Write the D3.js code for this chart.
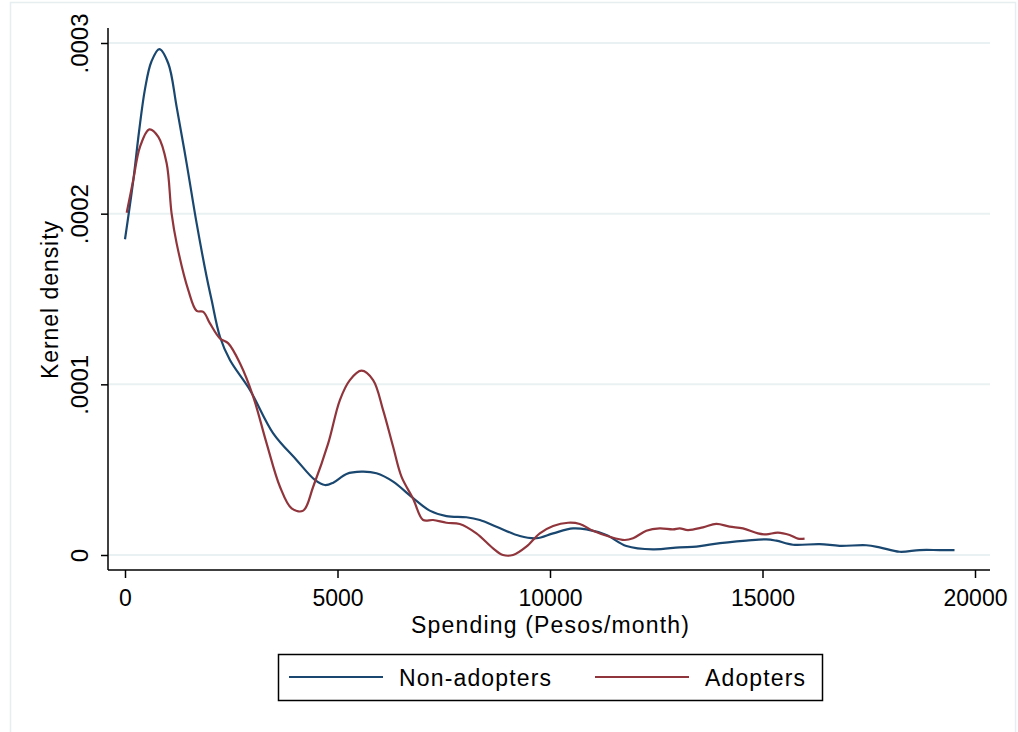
<!DOCTYPE html>
<html>
<head>
<meta charset="utf-8">
<script src="https://cdn.jsdelivr.net/npm/d3@7"></script>
<style>
  html, body { margin: 0; padding: 0; background: #fff; }
  svg { display: block; font-family: "Liberation Sans", Arial, Helvetica, sans-serif; }
</style>
</head>
<body>
<div id="chart"></div>
<script>
// Kernel density estimates (x in pesos/month, y in density x 1e-4)
const nonAdopterX = [0, 196, 330, 470, 620, 807, 1019, 1215, 1450, 1686, 1921, 2038, 2234, 2469, 2939, 3487, 4035, 4468, 4703, 4899, 5212, 5565, 5917, 6309, 6760, 7171, 7563, 8033, 8349, 8741, 9290, 9682, 10073, 10543, 10857, 11327, 11797, 12424, 13051, 13443, 13835, 14619, 15089, 15324, 15716, 16345, 16815, 17442, 17755, 18225, 18696, 19166, 19518];
const nonAdopterY = [1.85, 2.197, 2.48, 2.73, 2.89, 2.964, 2.88, 2.626, 2.295, 1.943, 1.63, 1.494, 1.279, 1.142, 0.967, 0.713, 0.557, 0.44, 0.41, 0.424, 0.475, 0.488, 0.479, 0.43, 0.337, 0.26, 0.228, 0.221, 0.205, 0.166, 0.111, 0.098, 0.127, 0.156, 0.15, 0.117, 0.053, 0.033, 0.045, 0.049, 0.064, 0.084, 0.092, 0.084, 0.06, 0.064, 0.054, 0.057, 0.045, 0.019, 0.029, 0.029, 0.029];

const adopterX = [40, 196, 353, 572, 784, 980, 1097, 1215, 1489, 1686, 1842, 1999, 2234, 2430, 2705, 3018, 3332, 3646, 3920, 4193, 4428, 4781, 5056, 5291, 5565, 5838, 6073, 6309, 6505, 6779, 7015, 7249, 7563, 7876, 8268, 8660, 8895, 9130, 9443, 9760, 10073, 10425, 10700, 11013, 11405, 11758, 11954, 12267, 12580, 12894, 13051, 13247, 13600, 13913, 14226, 14540, 14893, 15089, 15363, 15638, 15834, 15990];
const adopterY = [2.005, 2.2, 2.392, 2.494, 2.45, 2.295, 2.0, 1.826, 1.552, 1.43, 1.425, 1.357, 1.269, 1.24, 1.123, 0.927, 0.654, 0.40, 0.273, 0.26, 0.40, 0.654, 0.908, 1.025, 1.08, 1.025, 0.849, 0.634, 0.459, 0.33, 0.205, 0.205, 0.189, 0.182, 0.127, 0.039, 0.0, 0.0, 0.049, 0.127, 0.17, 0.189, 0.182, 0.142, 0.107, 0.088, 0.098, 0.142, 0.156, 0.15, 0.156, 0.146, 0.162, 0.182, 0.166, 0.156, 0.127, 0.121, 0.131, 0.117, 0.096, 0.096];

const xTicks = [0, 5000, 10000, 15000, 20000];
const yTicks = [0, 0.0001, 0.0002, 0.0003];
const yTickLabels = ["0", ".0001", ".0002", ".0003"];
const seriesNames = ["Non-adopters", "Adopters"];
const seriesColors = ["#1a476f", "#90353b"];

const width = 1018, height = 732;

const svg = d3.select("#chart")
    .append("svg")
    .attr("width", width)
    .attr("height", height);

// outer graph region frame
svg.append("rect")
    .attr("x", 10.5).attr("y", 2.5)
    .attr("width", 1005).attr("height", 760)
    .attr("fill", "#fff")
    .attr("stroke", "#e6eef0")
    .attr("stroke-width", 1.5);

const x = d3.scaleLinear().domain([0, 20000]).range([125, 975]);
const y = d3.scaleLinear().domain([0, 0.0003]).range([555, 43]);

const plotLeft = 108, plotRight = 990, plotTop = 28, plotBottom = 570;

// gridlines
svg.append("g")
    .selectAll("line")
    .data(yTicks)
    .join("line")
    .attr("x1", plotLeft + 1)
    .attr("x2", plotRight)
    .attr("y1", d => y(d))
    .attr("y2", d => y(d))
    .attr("stroke", "#eaf1f2")
    .attr("stroke-width", 2);

// y axis
const yAxis = d3.axisLeft(y)
    .tickValues(yTicks)
    .tickFormat((d, i) => yTickLabels[i])
    .tickSize(7);

const gy = svg.append("g")
    .attr("transform", `translate(${plotLeft},0)`)
    .call(yAxis);
gy.select(".domain").remove();
gy.append("line")
    .attr("x1", 0).attr("x2", 0)
    .attr("y1", plotTop).attr("y2", plotBottom)
    .attr("stroke", "#000").attr("stroke-width", 1.5);
gy.selectAll(".tick line").attr("stroke", "#000").attr("stroke-width", 1.5);
gy.selectAll(".tick text")
    .attr("font-size", 24)
    .attr("fill", "#000")
    .attr("text-anchor", "middle")
    .attr("dy", 0)
    .attr("x", 0)
    .attr("transform", "translate(-20,0) rotate(-90)");

// x axis
const xAxis = d3.axisBottom(x)
    .tickValues(xTicks)
    .tickFormat(d3.format("d"))
    .tickSize(8)
    .tickPadding(12);

const gx = svg.append("g")
    .attr("transform", `translate(0,${plotBottom})`)
    .call(xAxis);
gx.select(".domain").remove();
gx.append("line")
    .attr("x1", plotLeft).attr("x2", plotRight)
    .attr("y1", 0).attr("y2", 0)
    .attr("stroke", "#000").attr("stroke-width", 1.5);
gx.selectAll(".tick line").attr("stroke", "#000").attr("stroke-width", 1.5);
gx.selectAll(".tick text")
    .attr("font-size", 23)
    .attr("fill", "#000");

// axis titles
svg.append("text")
    .attr("x", 550).attr("y", 633)
    .attr("text-anchor", "middle")
    .attr("font-size", 23)
    .attr("textLength", 278)
    .attr("lengthAdjust", "spacing")
    .text("Spending (Pesos/month)");

svg.append("text")
    .attr("transform", "translate(58,300) rotate(-90)")
    .attr("text-anchor", "middle")
    .attr("font-size", 23)
    .attr("textLength", 158)
    .attr("lengthAdjust", "spacing")
    .text("Kernel density");

// density curves
const series = [
    d3.zip(nonAdopterX, nonAdopterY.map(v => v * 1e-4)),
    d3.zip(adopterX, adopterY.map(v => v * 1e-4))
];

const line = d3.line()
    .x(d => x(d[0]))
    .y(d => y(d[1]))
    .curve(d3.curveCatmullRom.alpha(0.5));

svg.append("g")
    .selectAll("path")
    .data(series)
    .join("path")
    .attr("d", line)
    .attr("fill", "none")
    .attr("stroke", (d, i) => seriesColors[i])
    .attr("stroke-width", 2.2)
    .attr("stroke-linejoin", "round");

// legend
const legend = svg.append("g");
legend.append("rect")
    .attr("x", 278.5).attr("y", 654.5)
    .attr("width", 544).attr("height", 46)
    .attr("fill", "#fff")
    .attr("stroke", "#000")
    .attr("stroke-width", 1.5);

const legendX = [289, 595];
const legendTextLen = [152, 100];
const items = legend.selectAll(".item")
    .data(seriesNames)
    .join("g")
    .attr("class", "item")
    .attr("transform", (d, i) => `translate(${legendX[i]},677)`);

items.append("line")
    .attr("x1", 0).attr("x2", 94)
    .attr("y1", 0).attr("y2", 0)
    .attr("stroke", (d, i) => seriesColors[i])
    .attr("stroke-width", 2.2);

items.append("text")
    .attr("x", 110)
    .attr("y", 9)
    .attr("font-size", 23)
    .attr("textLength", (d, i) => legendTextLen[i])
    .attr("lengthAdjust", "spacing")
    .text(d => d);
</script>
</body>
</html>
